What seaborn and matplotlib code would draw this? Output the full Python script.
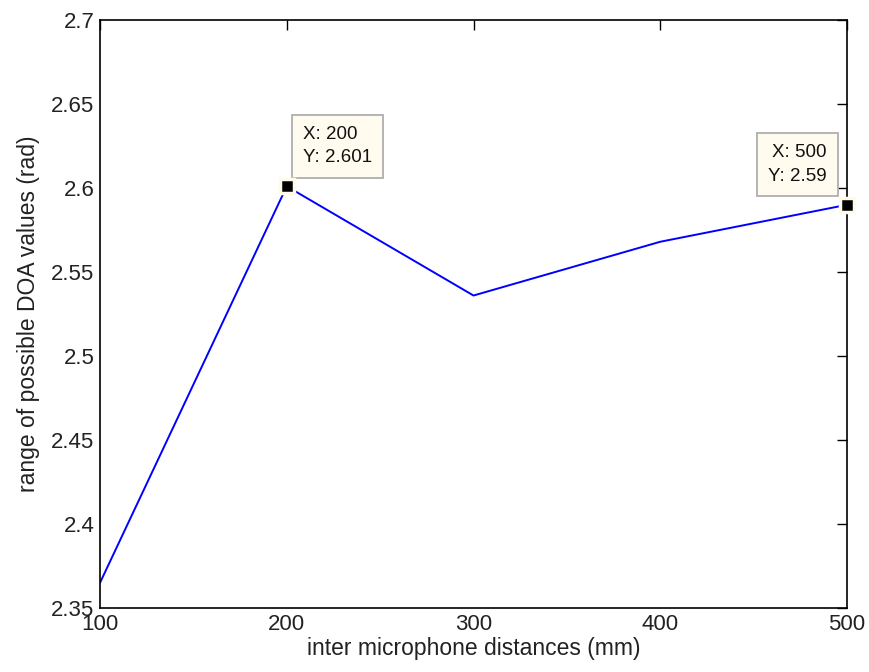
import numpy as np
import pandas as pd
import matplotlib
matplotlib.use("Agg")
import matplotlib.pyplot as plt
import seaborn as sns

# --- data ---
distances = [100, 200, 300, 400, 500]
doa_range = [2.365, 2.601, 2.536, 2.568, 2.59]
tip_x = [200, 500]
tip_y = [2.601, 2.59]

df = pd.DataFrame({"dist": distances, "range": doa_range})

sns.set_theme(style="white")
plt.rcParams["font.family"] = ["Liberation Sans", "DejaVu Sans"]

fig = plt.figure(figsize=(8.69, 6.72), dpi=100)
ax = fig.add_axes([100 / 869, 64 / 672, 747 / 869, 588 / 672])

sns.lineplot(data=df, x="dist", y="range", color="#0000ff", linewidth=1.4, ax=ax)

# data tip markers
ax.plot(tip_x, tip_y, linestyle="none", marker="s", markersize=10.5,
        markerfacecolor="black", markeredgecolor="#fffbea", markeredgewidth=2.5,
        clip_on=False, zorder=7)

box = dict(boxstyle="square,pad=0.6", facecolor="#fffbee", edgecolor="#b4b4b4", linewidth=1.4)
ax.annotate(f"X: {tip_x[0]}\nY: {tip_y[0]}", xy=(tip_x[0], tip_y[0]),
            xytext=(16, 20), textcoords="offset pixels", ha="left", va="bottom",
            fontsize=13.5, linespacing=1.5, bbox=box, zorder=6, color="#111111")
ax.annotate(f"X: {tip_x[1]}\nY: {tip_y[1]}", xy=(tip_x[1], tip_y[1]),
            xytext=(-20, 20), textcoords="offset pixels", ha="right", va="bottom",
            multialignment="right", fontsize=13.5, linespacing=1.5, bbox=box, zorder=6,
            color="#111111")

ax.set_xlim(100, 500)
ax.set_ylim(2.35, 2.7)
ax.set_xticks(distances)
ax.set_yticks(np.round(np.arange(2.35, 2.7001, 0.05), 2))
ax.set_yticklabels(["2.35", "2.4", "2.45", "2.5", "2.55", "2.6", "2.65", "2.7"])

ax.set_xlabel("inter microphone distances (mm)", fontsize=16.5, labelpad=2, color="#222222")
ax.set_ylabel("range of possible DOA values (rad)", fontsize=16.5, labelpad=8, color="#222222")

ax.tick_params(direction="in", length=7, width=1, top=True, right=True,
               labelsize=16, colors="black", labelcolor="#222222", pad=4)
for s in ax.spines.values():
    s.set_color("black")
    s.set_linewidth(1.2)

fig.savefig("out.png", dpi=100, facecolor="white")
